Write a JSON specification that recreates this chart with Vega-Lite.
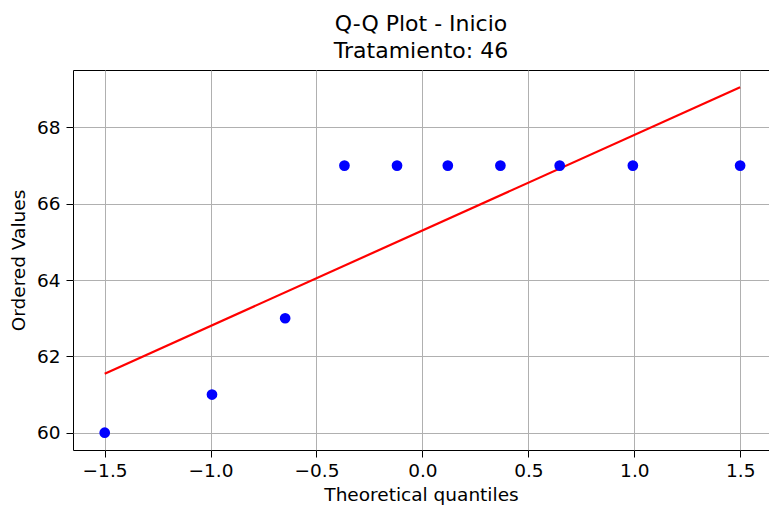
{
  "$schema": "https://vega.github.io/schema/vega-lite/v6.json",
  "width": 696,
  "height": 380,
  "autosize": {"type": "none"},
  "padding": {"left": 73, "top": 70, "right": 0, "bottom": 58},
  "background": "white",
  "config": {
    "font": "DejaVu Sans",
    "view": {"stroke": "black", "strokeWidth": 1},
    "axis": {
      "domain": false,
      "grid": true,
      "gridColor": "#b0b0b0",
      "gridWidth": 1,
      "tickColor": "black",
      "tickSize": 7,
      "tickWidth": 1,
      "labelFont": "DejaVu Sans",
      "labelFontSize": 18.5,
      "labelColor": "black",
      "titleFont": "DejaVu Sans",
      "titleFontSize": 18.5,
      "titleFontWeight": "normal",
      "titleColor": "black"
    },
    "title": {"font": "DejaVu Sans", "fontSize": 22, "fontWeight": "normal", "color": "black"}
  },
  "title": {"text": ["Q-Q Plot - Inicio", "Tratamiento: 46"], "anchor": "middle", "lineHeight": 27, "offset": 7},
  "datasets": {
    "points": [
      {"q": -1.4993, "v": 60},
      {"q": -0.9931, "v": 61},
      {"q": -0.6478, "v": 63},
      {"q": -0.368, "v": 67},
      {"q": -0.1198, "v": 67},
      {"q": 0.1198, "v": 67},
      {"q": 0.368, "v": 67},
      {"q": 0.6478, "v": 67},
      {"q": 0.9931, "v": 67},
      {"q": 1.4993, "v": 67}
    ],
    "fit": [
      {"q": -1.4993, "v": 61.547},
      {"q": 1.4993, "v": 69.053}
    ]
  },
  "layer": [
    {
      "data": {"name": "fit"},
      "mark": {"type": "line", "color": "#ff0000", "strokeWidth": 2.2},
      "encoding": {
        "x": {"field": "q", "type": "quantitative",
              "scale": {"domain": [-1.649, 1.6356], "nice": false, "zero": false},
              "axis": {"values": [-1.5, -1.0, -0.5, 0.0, 0.5, 1.0, 1.5], "format": ".1f", "title": "Theoretical quantiles", "labelPadding": 4, "titlePadding": 6}},
        "y": {"field": "v", "type": "quantitative",
              "scale": {"domain": [59.547, 69.506], "nice": false, "zero": false},
              "axis": {"values": [60, 62, 64, 66, 68], "format": "d", "title": "Ordered Values", "labelPadding": 6, "titlePadding": 8}}
      }
    },
    {
      "data": {"name": "points"},
      "mark": {"type": "point", "filled": true, "color": "#0000ff", "size": 115, "opacity": 1},
      "encoding": {
        "x": {"field": "q", "type": "quantitative"},
        "y": {"field": "v", "type": "quantitative"}
      }
    }
  ]
}
